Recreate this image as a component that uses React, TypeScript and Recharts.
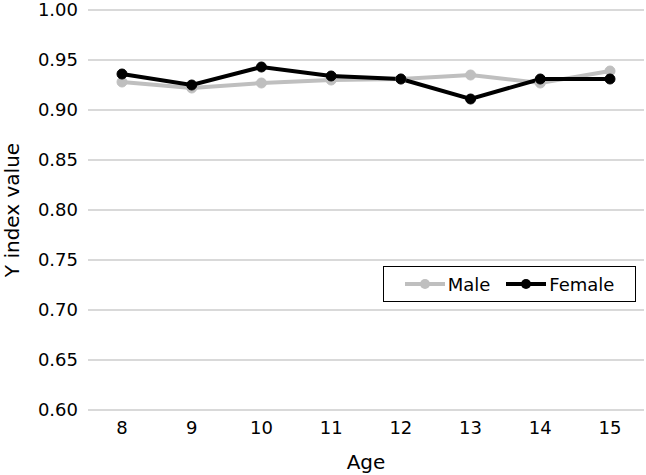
import React from 'react';
import { LineChart, Line, XAxis, YAxis, CartesianGrid } from 'recharts';

const ages = ['8', '9', '10', '11', '12', '13', '14', '15'];
const maleValues = [0.928, 0.922, 0.927, 0.930, 0.931, 0.935, 0.927, 0.939];
const femaleValues = [0.936, 0.925, 0.943, 0.934, 0.931, 0.911, 0.931, 0.931];
const yTicks = [0.6, 0.65, 0.7, 0.75, 0.8, 0.85, 0.9, 0.95, 1.0];
const seriesList = [
    { name: 'Male', color: '#bfbfbf' },
    { name: 'Female', color: '#000000' },
];

const data = ages.map((age, i) => ({ age, Male: maleValues[i], Female: femaleValues[i] }));

const FONT = '"DejaVu Sans", Verdana, sans-serif';

function LegendBox() {
    return (
        <div style={{
            position: 'absolute', left: 383, top: 266, width: 253, height: 36,
            border: '1.5px solid #000', boxSizing: 'border-box', background: '#fff',
            display: 'flex', alignItems: 'center', justifyContent: 'center', gap: 16,
            fontFamily: FONT, fontSize: 18, color: '#000'
        }}>
            {seriesList.map((s) => (
                <div key={s.name} style={{ display: 'flex', alignItems: 'center' }}>
                    <svg width={40} height={12} style={{ marginRight: 3 }}>
                        <line x1={0} y1={6} x2={40} y2={6} stroke={s.color} strokeWidth={4} />
                        <circle cx={20} cy={6} r={5} fill={s.color} />
                    </svg>
                    <span>{s.name}</span>
                </div>
            ))}
        </div>
    );
}

export default function App() {
    return (
        <div style={{ position: 'absolute', left: 0, top: 0, width: 646, height: 475, background: '#fff' }}>
            <LineChart width={646} height={475} data={data} margin={{ top: 10, right: 2, left: 0, bottom: 0 }}>
                <CartesianGrid vertical={false} stroke="#d9d9d9" strokeWidth={2} />
                <XAxis
                    dataKey="age"
                    height={65}
                    padding={{ left: 34, right: 34 }}
                    axisLine={false}
                    tickLine={false}
                    tickSize={0}
                    tickMargin={11}
                    tick={{ fill: '#000', fontSize: 18, fontFamily: FONT }}
                    label={{ value: 'Age', position: 'insideBottom', offset: 6, fill: '#000', fontSize: 20, fontFamily: FONT }}
                />
                <YAxis
                    width={88}
                    domain={[0.6, 1.0]}
                    ticks={yTicks}
                    interval={0}
                    axisLine={false}
                    tickLine={false}
                    tickSize={0}
                    tickMargin={10}
                    tickFormatter={(v: number) => v.toFixed(2)}
                    tick={{ fill: '#000', fontSize: 18, fontFamily: FONT }}
                    label={{ value: 'Y index value', angle: -90, position: 'insideLeft', offset: 12, fill: '#000', fontSize: 20, fontFamily: FONT, style: { textAnchor: 'middle' } }}
                />
                <Line dataKey="Male" stroke="#bfbfbf" strokeWidth={4} dot={{ r: 5, fill: '#bfbfbf', stroke: '#bfbfbf', strokeWidth: 1 }} isAnimationActive={false} />
                <Line dataKey="Female" stroke="#000" strokeWidth={4} dot={{ r: 5, fill: '#000', stroke: '#000', strokeWidth: 1 }} isAnimationActive={false} />
            </LineChart>
            <LegendBox />
        </div>
    );
}
